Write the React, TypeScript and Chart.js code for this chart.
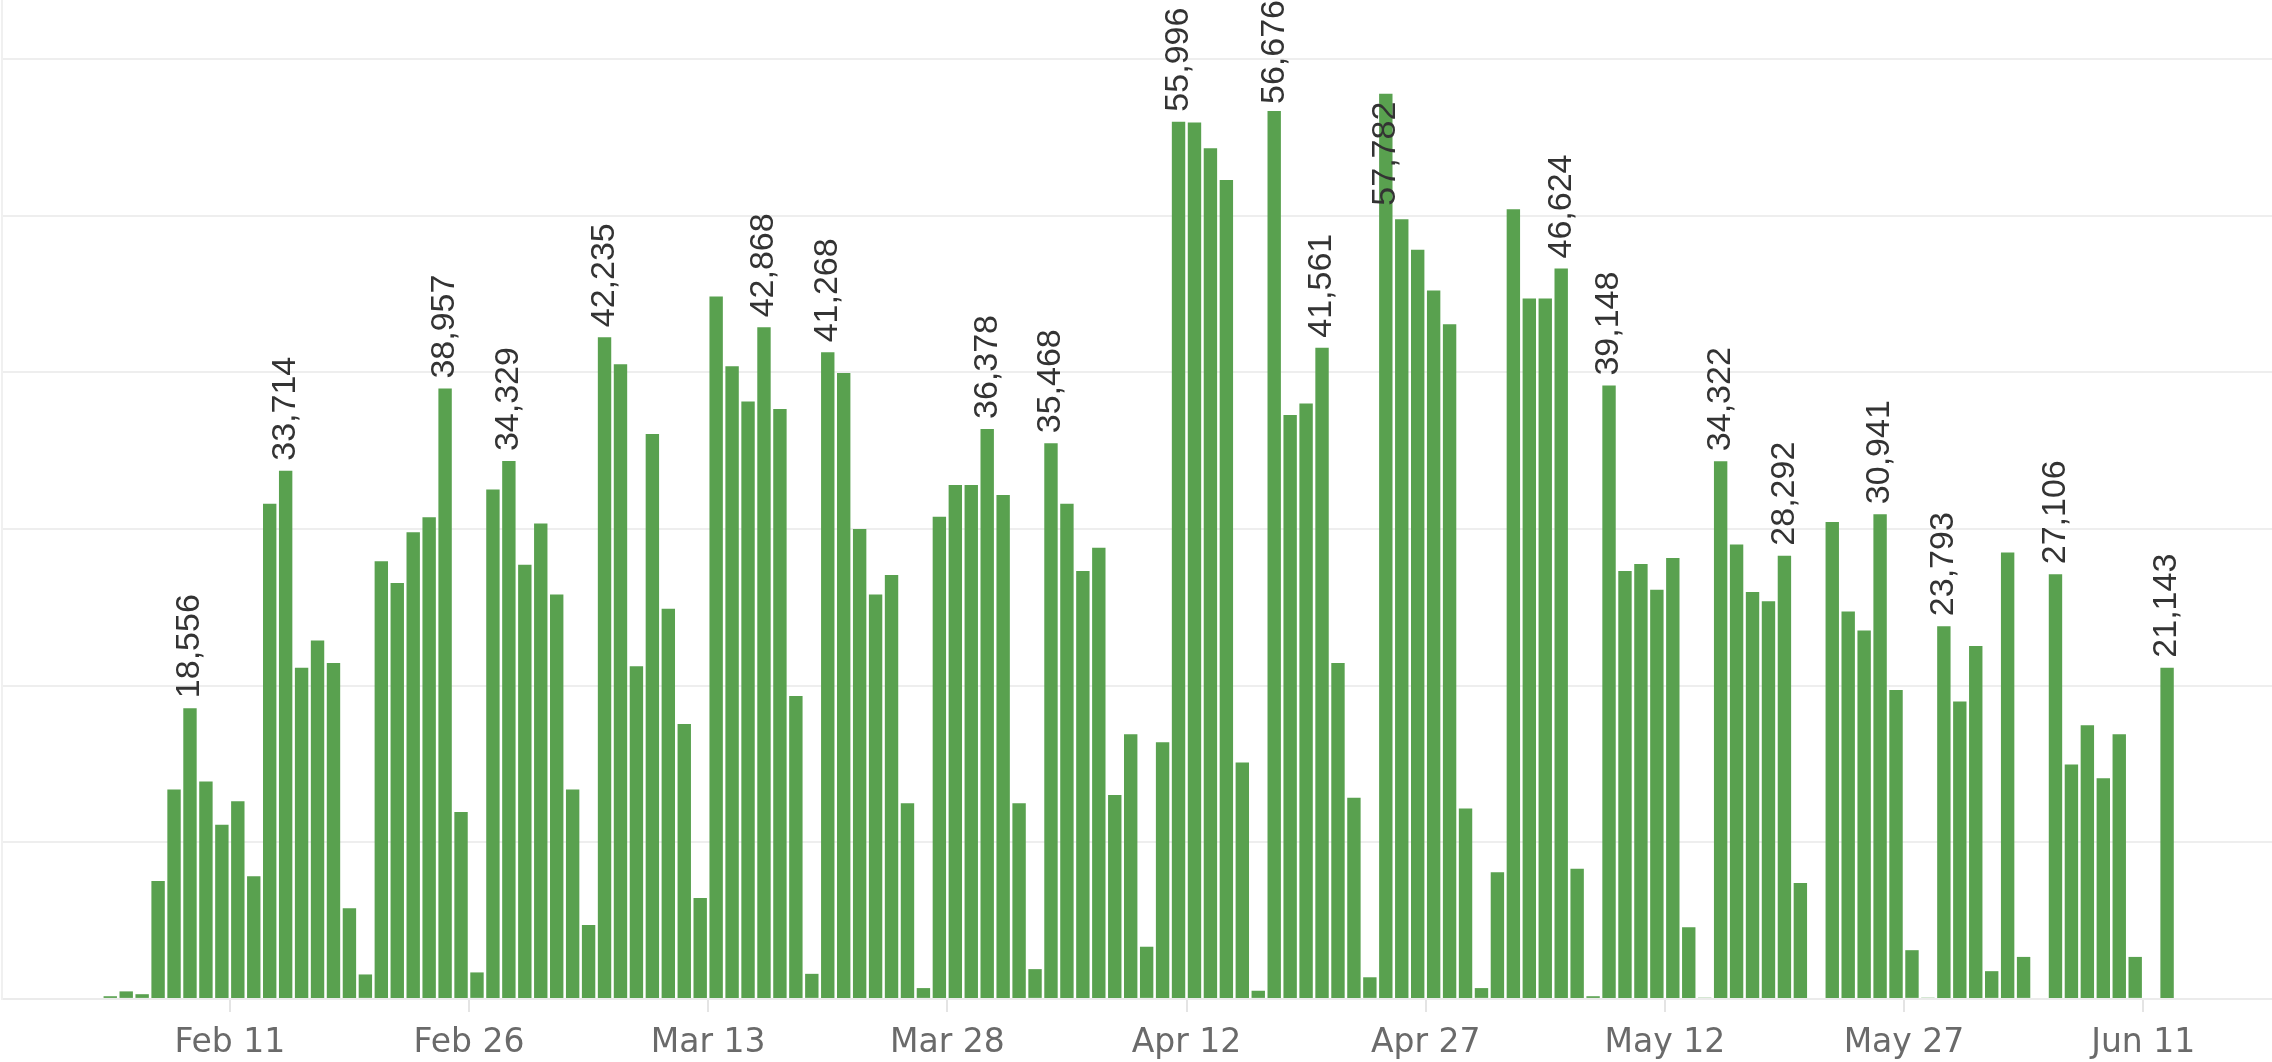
import React, { useEffect, useRef } from 'react';
import { Chart, registerables } from 'chart.js';

Chart.register(...registerables);

// Day offsets are counted from Feb 11 (offset 0). First bar is Feb 3 (offset -8).
const firstDayOffset = -8;

// Daily counts, one per day starting Feb 3 (null = no bar that day)
const dailyCounts: (number | null)[] = [
  170, 480, 300, 7520, 13360, 18556, 13880, 11110, // Feb 3 - Feb 10
  12620, 7830, 31600, 33714, 21140, 22870, 21440, 5790, 1560, 27930, // Feb 11 - Feb 20
  26550, 29790, 30740, 38957, 11930, 1690, 32510, 34329, 27710, 30350, // Feb 21 - Mar 2
  25810, 13360, 4710, 42235, 40510, 21230, 36060, 24900, 17550, 6440, // Mar 3 - Mar 12
  44830, 40380, 38130, 42868, 37660, 19330, 1600, 41268, 39950, 30000, // Mar 13 - Mar 22
  25810, 27060, 12490, 690, 30780, 32810, 32810, 36378, 32170, 12490, // Mar 23 - Apr 1
  1900, 35468, 31600, 27320, 28790, 13010, 16900, 3330, 16390, 55996, // Apr 2 - Apr 11
  55940, 54300, 52270, 15090, 520, 56676, 37270, 38000, 41561, 21440, // Apr 12 - Apr 21
  12840, 1380, 57782, 49760, 47820, 45220, 43060, 12150, 690, 8080, // Apr 22 - May 1
  50410, 44700, 44700, 46624, 8300, 170, 39148, 27320, 27760, 26110, // May 2 - May 11
  28150, 4580, 80, 34322, 29010, 25980, 25380, 28292, 7390, null, // May 12 - May 21
  30440, 24730, 23520, 30941, 19710, 3110, 80, 23793, 18980, 22530, // May 22 - May 31
  1770, 28490, 2680, null, 27106, 14960, 17470, 14090, 16900, 2680, // Jun 1 - Jun 10
  null, 21143, // Jun 11 - Jun 12
];

// Days (offset from Feb 11) whose bars carry a value label
const labeledDayOffsets = [-3, 3, 13, 17, 23, 33, 37, 47, 51, 59, 65, 68, 72, 83, 86, 93, 97, 103, 107, 114, 121];

// Axis ticks (offset from Feb 11) and their labels
const tickDayOffsets = [0, 15, 30, 45, 60, 75, 90, 105, 120];
const tickLabels = ['Feb 11', 'Feb 26', 'Mar 13', 'Mar 28', 'Apr 12', 'Apr 27', 'May 12', 'May 27', 'Jun 11'];

// Value gridlines
const gridValues = [0, 10000, 20000, 30000, 40000, 50000, 60000];

const Y_MAX = 63760;
const X_MIN = -14.29;
const X_MAX = 128.08;

const barLabelPlugin = {
  id: 'barLabels',
  afterDatasetsDraw(chart: any) {
    const ctx = chart.ctx as CanvasRenderingContext2D;
    const meta = chart.getDatasetMeta(0);
    const data = chart.data.datasets[0].data as any[];
    const top = chart.chartArea.top;
    ctx.save();
    ctx.font = '34px "Liberation Sans", Arial, sans-serif';
    ctx.fillStyle = '#333333';
    ctx.textBaseline = 'middle';
    ctx.textAlign = 'left';
    const gap = 10;
    meta.data.forEach((el: any, j: number) => {
      const d = data[j];
      if (!labeledDayOffsets.includes(d.day)) return;
      const text = Number(d.y).toLocaleString('en-US');
      const w = ctx.measureText(text).width;
      let start = el.y - gap; // text runs upward from here
      const end = start - w;
      if (end < top) {
        const shift = top - end;
        if (shift < gap) {
          start += shift;
        } else {
          start = el.y + 8 + w; // inside the bar
        }
      }
      ctx.save();
      ctx.translate(el.x, start);
      ctx.rotate(-Math.PI / 2);
      ctx.fillText(text, 0, 0);
      ctx.restore();
    });
    ctx.restore();
  },
};

export default function App() {
  const canvasRef = useRef<HTMLCanvasElement | null>(null);

  useEffect(() => {
    document.body.style.margin = '0';
    document.body.style.overflow = 'hidden';
    const canvas = canvasRef.current;
    if (!canvas) return;

    const points: { x: number; y: number; day: number }[] = [];
    dailyCounts.forEach((v, i) => {
      if (v === null) return;
      const day = firstDayOffset + i;
      points.push({ x: day + 0.5, y: v, day });
    });

    const chart = new Chart(canvas, {
      type: 'bar',
      data: {
        datasets: [
          {
            data: points as any,
            backgroundColor: '#59a14f',
            borderWidth: 0,
            barPercentage: 0.84,
            categoryPercentage: 1,
          },
        ],
      },
      options: {
        animation: false,
        responsive: false,
        devicePixelRatio: 1,
        layout: { padding: { left: 2, right: 0, top: 0, bottom: -13.5 } },
        plugins: {
          legend: { display: false },
          tooltip: { enabled: false },
        },
        scales: {
          x: {
            type: 'linear',
            min: X_MIN,
            max: X_MAX,
            offset: false,
            afterBuildTicks: (scale: any) => {
              scale.ticks = tickDayOffsets.map((v) => ({ value: v }));
            },
            ticks: {
              autoSkip: false,
              maxRotation: 0,
              minRotation: 0,
              padding: 12,
              color: '#6a6a6a',
              font: { family: '"DejaVu Sans", Verdana, sans-serif', size: 33 },
              callback: (_v: any, i: number) => tickLabels[i],
            },
            grid: {
              offset: false,
              drawOnChartArea: false,
              drawTicks: true,
              tickLength: 13,
              color: '#e4e4e4',
              lineWidth: 2,
            },
            border: { display: true, color: '#ebebeb', width: 2 },
          },
          y: {
            min: 0,
            max: Y_MAX,
            afterBuildTicks: (scale: any) => {
              scale.ticks = gridValues.map((v) => ({ value: v }));
            },
            ticks: { display: false },
            grid: { color: '#eeeeee', lineWidth: 2, drawTicks: false },
            border: { display: true, color: '#f0f0f0', width: 2 },
          },
        },
      },
      plugins: [barLabelPlugin],
    });

    return () => {
      chart.destroy();
    };
  }, []);

  return (
    <div style={{ width: 2272, height: 1062, background: '#ffffff' }}>
      <canvas ref={canvasRef} width={2272} height={1062} style={{ display: 'block' }} />
    </div>
  );
}
